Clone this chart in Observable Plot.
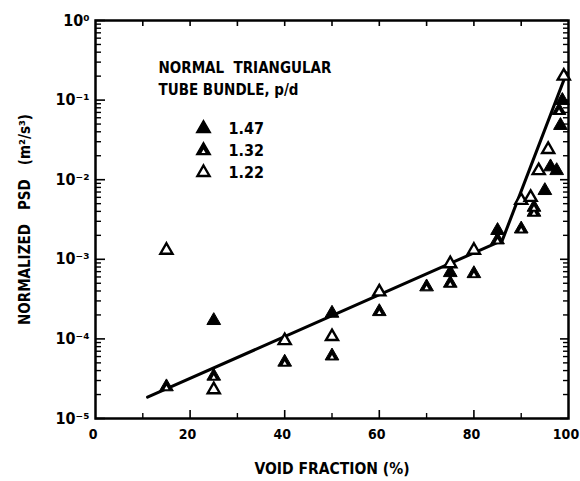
<!DOCTYPE html>
<html>
<head>
<meta charset="utf-8">
<script src="https://cdn.jsdelivr.net/npm/d3@7"></script>
<script src="https://cdn.jsdelivr.net/npm/@observablehq/plot@0.6"></script>
<style>
  html, body { margin: 0; padding: 0; background: #fff; }
</style>
</head>
<body>
<div id="chart"></div>
<script>
// ---- data ----
const x147 = [25, 50, 75, 85, 95, 96.2, 97.5, 98.3, 98.7];
const y147 = [1.7e-4, 2.1e-4, 6.8e-4, 2.3e-3, 7.3e-3, 1.45e-2, 1.3e-2, 4.8e-2, 9.9e-2];

const x132 = [15, 25, 40, 50, 60, 70, 75, 80, 85, 90, 92.7, 92.7, 98];
const y132 = [2.5e-5, 3.4e-5, 5.1e-5, 6.1e-5, 2.2e-4, 4.5e-4, 5.0e-4, 6.6e-4, 1.75e-3, 2.4e-3, 4.5e-3, 3.9e-3, 7.4e-2];

const x122 = [15, 25, 40, 50, 60, 75, 80, 90, 92, 93.7, 95.7, 99];
const y122 = [1.3e-3, 2.3e-5, 9.5e-5, 1.07e-4, 3.9e-4, 8.8e-4, 1.3e-3, 5.5e-3, 6.0e-3, 1.3e-2, 2.4e-2, 0.2];

const fitX = [11, 86, 99.6];
const fitY = [1.85e-5, 1.73e-3, 0.22];

const legendLabels = ["1.47", "1.32", "1.22"];
const legendTitle = ["NORMAL\u00a0\u00a0TRIANGULAR", "TUBE BUNDLE, p/d"];
const yMajor = [1e-5, 1e-4, 1e-3, 1e-2, 1e-1, 1];
const xTickLabels = [0, 20, 40, 60, 80, 100];
const xMinorTicks = [10, 30, 50, 70, 90];
const xMajorTicks = [20, 40, 60, 80];
const xLabel = "VOID FRACTION (%)";
const yLabel = "NORMALIZED\u00a0\u00a0\u00a0PSD\u00a0\u00a0\u00a0(m²/s³)";

// ---- build tables ----
const pts = (xs, ys) => xs.map((x, i) => ({x, y: ys[i]}));
const d147 = pts(x147, y147);
const d132 = pts(x132, y132);
const d122 = pts(x122, y122);
const fit = pts(fitX, fitY);

const yMinor = [];
for (let e = -5; e <= -1; e++) for (let k = 2; k <= 9; k++) yMinor.push(k * Math.pow(10, e));

const sup = {"0":"⁰","1":"¹","2":"²","3":"³","4":"⁴","5":"⁵","-":"⁻"};
const fmtPow = d => "10" + String(Math.round(Math.log10(d))).split("").map(c => sup[c]).join("");

const W = 580, H = 481;
const mL = 95, mR = 12, mT = 20, mB = 63;
const pw = W - mL - mR, ph = H - mT - mB;

const R = 5.1;
const RO = 4.5;
const chart = Plot.plot({
  width: W,
  height: H,
  marginLeft: mL,
  marginRight: mR,
  marginTop: mT,
  marginBottom: mB,
  style: {fontFamily: "'DejaVu Sans Condensed', 'DejaVu Sans', sans-serif", fontWeight: "bold", fontSize: "15px", color: "#000", background: "#fff"},
  x: {domain: [0, 100]},
  y: {type: "log", domain: [1e-5, 1]},
  marks: [
    // inward ticks
    Plot.tickY(yMajor, {y: d => d, insetRight: pw - 10, strokeWidth: 1.6}),
    Plot.tickY(yMinor, {y: d => d, insetRight: pw - 6, strokeWidth: 1.4}),
    Plot.tickY(yMajor, {y: d => d, insetLeft: pw - 8, strokeWidth: 1.6}),
    Plot.tickY(yMinor, {y: d => d, insetLeft: pw - 5, strokeWidth: 1.4}),
    Plot.tickX(xMajorTicks, {x: d => d, insetTop: ph - 8, strokeWidth: 1.6}),
    Plot.tickX(xMinorTicks, {x: d => d, insetTop: ph - 5, strokeWidth: 1.4}),
    Plot.tickX(xMajorTicks.concat(xMinorTicks), {x: d => d, insetBottom: ph - 6, strokeWidth: 1.6}),
    Plot.frame({strokeWidth: 2.5}),
    Plot.axisY({ticks: yMajor, tickFormat: fmtPow, tickSize: 0, tickPadding: 6, fontSize: 16, label: null}),
    Plot.axisX({ticks: xTickLabels, tickFormat: d => String(d), tickSize: 0, tickPadding: 11, fontSize: 14, dx: -2.5, label: null}),
    Plot.text([yLabel], {frameAnchor: "left", text: d => d, dx: -70, rotate: -90, fontSize: 15, textAnchor: "middle", lineAnchor: "middle"}),
    Plot.text([xLabel], {frameAnchor: "bottom", text: d => d, dy: 51, fontSize: 15.5, textAnchor: "middle", lineAnchor: "middle"}),
    // fitted line
    Plot.line(fit, {x: "x", y: "y", stroke: "#000", strokeWidth: 3}),
    // data
    Plot.dot(d147, {x: "x", y: "y", symbol: "triangle", r: R, fill: "#000", stroke: "#000", strokeWidth: 1}),
    Plot.dot(d132, {x: "x", y: "y", symbol: "triangle", r: R, fill: "#000", stroke: "#000", strokeWidth: 1}),
    Plot.dot(d132, {x: "x", y: "y", symbol: "triangle", r: 1.5, fill: "#fff", dy: 1.3}),
    Plot.dot(d122, {x: "x", y: "y", symbol: "triangle", r: RO, fill: "#fff", stroke: "#000", strokeWidth: 2.4}),
    // legend
    Plot.text(legendTitle, {frameAnchor: "top-left", text: d => d, dx: 63, dy: 48, lineAnchor: "middle", textAnchor: "start", fontSize: 15,
                            filter: (d, i) => i === 0}),
    Plot.text(legendTitle, {frameAnchor: "top-left", text: d => d, dx: 63, dy: 70, lineAnchor: "middle", textAnchor: "start", fontSize: 15,
                            filter: (d, i) => i === 1}),
    Plot.dot([legendLabels[0]], {frameAnchor: "top-left", dx: 108, dy: 108, symbol: "triangle", r: R, fill: "#000", stroke: "#000"}),
    Plot.dot([legendLabels[1]], {frameAnchor: "top-left", dx: 108, dy: 130, symbol: "triangle", r: R, fill: "#000", stroke: "#000"}),
    Plot.dot([legendLabels[1]], {frameAnchor: "top-left", dx: 108, dy: 131.3, symbol: "triangle", r: 1.5, fill: "#fff"}),
    Plot.dot([legendLabels[2]], {frameAnchor: "top-left", dx: 108, dy: 152, symbol: "triangle", r: RO, fill: "#fff", stroke: "#000", strokeWidth: 2.4}),
    Plot.text([legendLabels[0]], {frameAnchor: "top-left", text: d => d, dx: 133, dy: 108, textAnchor: "start", lineAnchor: "middle", fontSize: 16}),
    Plot.text([legendLabels[1]], {frameAnchor: "top-left", text: d => d, dx: 133, dy: 130, textAnchor: "start", lineAnchor: "middle", fontSize: 16}),
    Plot.text([legendLabels[2]], {frameAnchor: "top-left", text: d => d, dx: 133, dy: 152, textAnchor: "start", lineAnchor: "middle", fontSize: 16})
  ]
});
document.getElementById("chart").appendChild(chart);
</script>
</body>
</html>
